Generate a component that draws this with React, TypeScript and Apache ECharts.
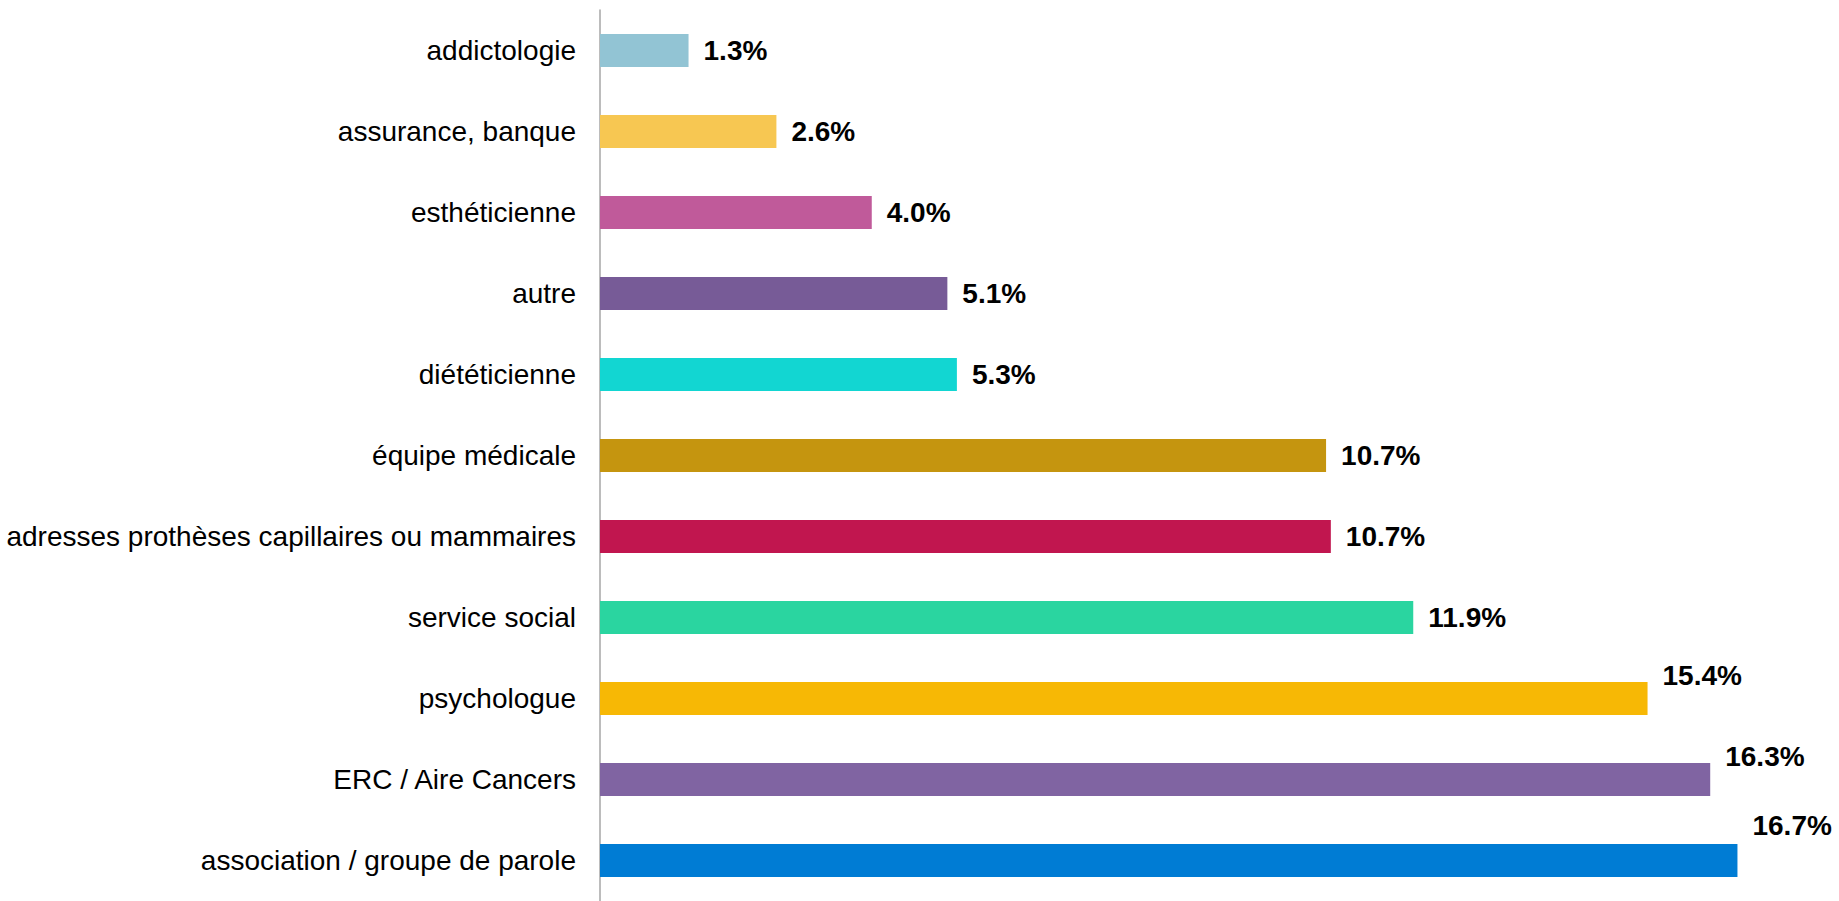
import React, { useEffect, useRef } from "react";
import * as echarts from "echarts";

const categories = [
  "addictologie",
  "assurance, banque",
  "esthéticienne",
  "autre",
  "diététicienne",
  "équipe médicale",
  "adresses prothèses capillaires ou mammaires",
  "service social",
  "psychologue",
  "ERC / Aire Cancers",
  "association / groupe de parole",
];

const values = [1.3, 2.59, 3.99, 5.1, 5.24, 10.66, 10.73, 11.94, 15.38, 16.3, 16.7];

const valueLabels = ["1.3%", "2.6%", "4.0%", "5.1%", "5.3%", "10.7%", "10.7%", "11.9%", "15.4%", "16.3%", "16.7%"];

const barColors = [
  "#92C4D4",
  "#F7C752",
  "#C05A9A",
  "#775B97",
  "#12D6D2",
  "#C5950F",
  "#C1164F",
  "#2AD5A0",
  "#F7B805",
  "#8064A2",
  "#007CD4",
];

const labelRaise = [0, 0, 0, 0, 0, 0, 0, 0, 23, 23, 35];

export default function App() {
  const ref = useRef<HTMLDivElement>(null);

  useEffect(() => {
    if (!ref.current) return;
    const chart = echarts.init(ref.current, null, { renderer: "svg" });
    const font = "'Liberation Sans', Arial, Helvetica, sans-serif";
    chart.setOption({
      animation: false,
      backgroundColor: "#ffffff",
      grid: { left: 600, top: 10, width: 1226, height: 895, containLabel: false },
      xAxis: {
        type: "value",
        min: 0,
        max: 18,
        show: false,
        splitLine: { show: false },
      },
      yAxis: {
        type: "category",
        inverse: true,
        data: categories,
        axisTick: { show: false },
        axisLine: { show: true, lineStyle: { color: "#A6A6A6", width: 1.5 } },
        axisLabel: {
          color: "#000000",
          fontSize: 28,
          fontFamily: font,
          margin: 24,
        },
        splitLine: { show: false },
      },
      series: [
        {
          type: "bar",
          barWidth: 33,
          data: values.map((v, i) => ({
            value: v,
            itemStyle: { color: barColors[i] },
            label: {
              show: true,
              position: "right",
              distance: 15,
              offset: [0, -labelRaise[i]],
              formatter: valueLabels[i],
              color: "#000000",
              fontSize: 28,
              fontWeight: "bold",
              fontFamily: font,
            },
          })),
        },
      ],
    });
    return () => chart.dispose();
  }, []);

  return (
    <div
      ref={ref}
      style={{ position: "absolute", left: 0, top: 0, width: 1839, height: 901 }}
    />
  );
}
